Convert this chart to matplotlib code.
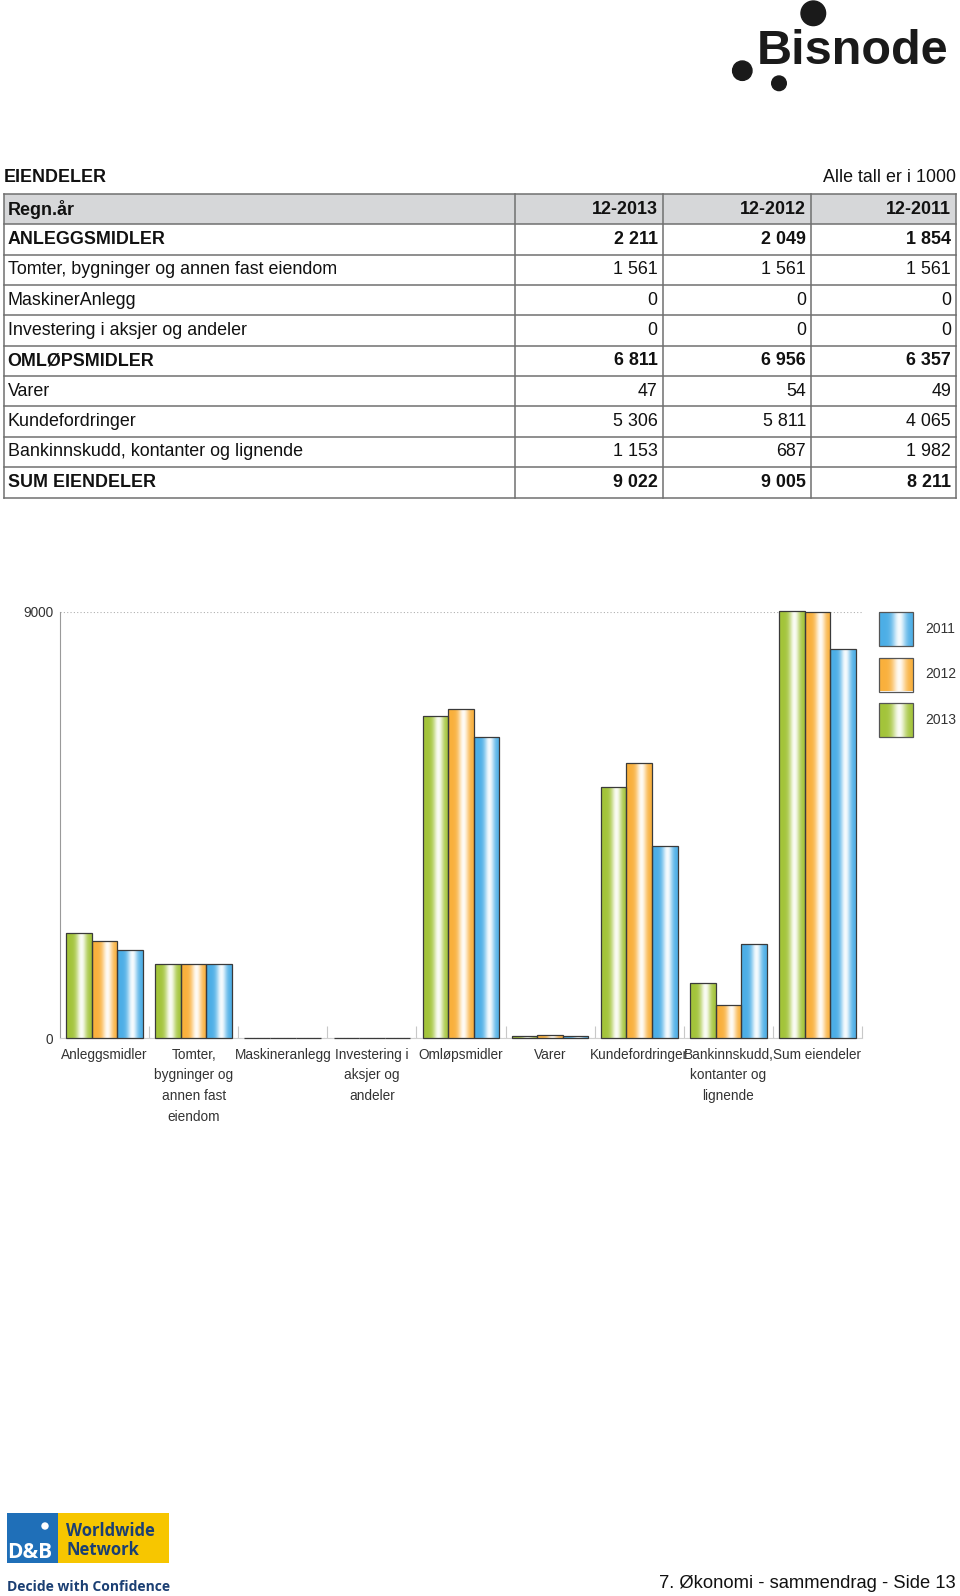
import numpy as np
import matplotlib
matplotlib.use("Agg")
import matplotlib.pyplot as plt
from matplotlib.patches import Rectangle, Circle

plt.rcParams['font.family'] = ['Liberation Sans', 'DejaVu Sans']

# Table data (Alle tall er i 1000)
years = ["12-2013", "12-2012", "12-2011"]
rows = ["ANLEGGSMIDLER", "Tomter, bygninger og annen fast eiendom",
        "MaskinerAnlegg", "Investering i aksjer og andeler",
        "OMLØPSMIDLER", "Varer", "Kundefordringer",
        "Bankinnskudd, kontanter og lignende", "SUM EIENDELER"]
bold_rows = ["ANLEGGSMIDLER", "OMLØPSMIDLER", "SUM EIENDELER"]
v2013 = [2211, 1561, 0, 0, 6811, 47, 5306, 1153, 9022]
v2012 = [2049, 1561, 0, 0, 6956, 54, 5811, 687, 9005]
v2011 = [1854, 1561, 0, 0, 6357, 49, 4065, 1982, 8211]

# Chart categories
categories = ["Anleggsmidler", "Tomter,\nbygninger og\nannen fast\neiendom",
              "Maskineranlegg", "Investering i\naksjer og\nandeler",
              "Omløpsmidler", "Varer", "Kundefordringer",
              "Bankinnskudd,\nkontanter og\nlignende", "Sum eiendeler"]
series_labels = ["2013", "2012", "2011"]
series_colors = {"2013": "#a3c43a", "2012": "#f9b03c", "2011": "#4caee6"}

W, H = 960, 1596
fig = plt.figure(figsize=(W / 100, H / 100), dpi=100)


def gradient(color, n=64):
    c = np.array(matplotlib.colors.to_rgb(color))
    t = np.linspace(0, 1, n)
    w = 0.95 * np.exp(-((t - 0.6) / 0.2) ** 2)
    g = c[None, :] * (1 - w[:, None]) + w[:, None]
    return g[None, :, :]


def fmt(v):
    return f"{v:,}".replace(",", " ")


# ---- Chart ----
ax = fig.add_axes([60 / W, 1 - 1038 / H, 802 / W, 426 / H])
x = np.arange(len(categories)) + 0.5
bw = 0.287
for k, (lab, vals) in enumerate(zip(series_labels, [v2013, v2012, v2011])):
    bars = ax.bar(x + (k - 1) * bw, vals, bw, facecolor='none',
                  edgecolor='#3a3a3a', linewidth=0.9, zorder=3, clip_on=False)
    g = gradient(series_colors[lab])
    for p in bars:
        x0, h = p.get_x(), p.get_height()
        if h <= 0:
            continue
        im = ax.imshow(g, extent=(x0, x0 + p.get_width(), 0, h),
                       aspect='auto', zorder=2, interpolation='bilinear')
        im.set_clip_path(p)

ax.set_xlim(0, len(categories))
ax.set_ylim(0, 9000)
ax.set_yticks([0, 9000])
ax.set_yticklabels(["0", "9000"])
ax.set_xticks(x)
ax.set_xticklabels(categories, linespacing=1.6)
ax.set_xticks(np.arange(1, len(categories) + 1), minor=True)
ax.tick_params(axis='x', which='major', length=0, pad=7,
               labelsize=9.8, labelcolor='#333333')
ax.tick_params(axis='x', which='minor', direction='in', length=9,
               color='#c8c8c8', width=0.8)
ax.tick_params(axis='y', length=0, pad=5, labelsize=9.8, labelcolor='#333333')
ax.yaxis.grid(True, linestyle=(0, (1, 2)), color='#b0b0b0', linewidth=0.8)
ax.set_axisbelow(True)
for s in ['top', 'right']:
    ax.spines[s].set_visible(False)
ax.spines['left'].set_color('#9a9a9a')
ax.spines['bottom'].set_color('#d0d0d0')
ax.spines['bottom'].set_linewidth(0.8)

# ---- Overlay in pixel coordinates ----
ov = fig.add_axes([0, 0, 1, 1], zorder=5)
ov.patch.set_alpha(0)
ov.axis('off')

# Legend (2011 on top)
for i, lab in enumerate(["2011", "2012", "2013"]):
    y0 = 612 + i * 45.5
    r = Rectangle((879, y0), 34, 34, facecolor='none', edgecolor='#555555',
                  linewidth=0.9, zorder=3)
    ov.add_patch(r)
    im = ov.imshow(gradient(series_colors[lab]), extent=(879, 913, y0 + 34, y0),
                   aspect='auto', zorder=2, interpolation='bilinear')
    im.set_clip_path(r)
    ov.text(925, y0 + 17, lab, fontsize=10, color='#333333', va='center')

# Table
ov.text(4, 178, "EIENDELER", fontsize=12.9, fontweight='bold', va='center',
        color='#111111')
ov.text(956, 178, "Alle tall er i 1000", fontsize=12.9, va='center',
        ha='right', color='#111111')
top, rh = 194, 30.35
cols = [3.5, 515, 662.7, 811, 956]
ov.add_patch(Rectangle((cols[0], top), cols[-1] - cols[0], rh,
                       facecolor='#d6d7d9', edgecolor='none', zorder=1))
nrows = len(rows) + 1
for k in range(nrows + 1):
    ov.plot([cols[0], cols[-1]], [top + k * rh] * 2, color='#707070', lw=1.1,
            zorder=2)
for c in cols:
    ov.plot([c, c], [top, top + nrows * rh], color='#707070', lw=1.1, zorder=2)

ov.text(cols[0] + 4, top + rh / 2, "Regn.år", fontsize=12.9,
        fontweight='bold', va='center', color='#111111')
for j, yl in enumerate(years):
    ov.text(cols[j + 2] - 5, top + rh / 2, yl, fontsize=12.9,
            fontweight='bold', va='center', ha='right', color='#111111')
for i, name in enumerate(rows):
    yc = top + (i + 1.5) * rh
    fw = 'bold' if name in bold_rows else 'normal'
    ov.text(cols[0] + 4, yc, name, fontsize=12.9, fontweight=fw,
            va='center', color='#111111')
    for j, vals in enumerate([v2013, v2012, v2011]):
        ov.text(cols[j + 2] - 5, yc, fmt(vals[i]), fontsize=12.9,
                fontweight=fw, va='center', ha='right', color='#111111')

# Bisnode logo
ov.text(757, 63.5, "Bisnode", fontsize=35, fontweight='bold', va='baseline',
        ha='left', color='#1a1a1a')
for cx, cy, rr in [(813.3, 13.3, 12.3), (742.3, 70.7, 9.7), (779, 83.3, 7.3)]:
    ov.add_patch(Circle((cx, cy), rr, color='#1a1a1a'))

# D&B logo
ov.add_patch(Rectangle((6.7, 1513.3), 51, 50, facecolor='#1f6fb8',
                       edgecolor='none'))
ov.add_patch(Rectangle((57.7, 1513.3), 111.6, 50, facecolor='#f7c600',
                       edgecolor='none'))
ov.add_patch(Circle((45, 1526), 3, color='white'))
ov.text(30, 1552, "D&B", fontsize=15, fontweight='bold', color='white',
        ha='center', va='center', family=['Open Sans', 'DejaVu Sans'])
ov.text(66, 1530.7, "Worldwide", fontsize=12, fontweight='bold',
        color='#1b3f73', va='center', family=['Open Sans', 'DejaVu Sans'])
ov.text(66, 1550, "Network", fontsize=12, fontweight='bold',
        color='#1b3f73', va='center', family=['Open Sans', 'DejaVu Sans'])
ov.text(7, 1587, "Decide with Confidence", fontsize=10, fontweight='bold',
        color='#1b3f73', va='center', family=['Open Sans', 'DejaVu Sans'])

# Footer
ov.text(956, 1583, "7. Økonomi - sammendrag - Side 13", fontsize=13.2,
        ha='right', va='center', color='#111111')

ov.set_xlim(0, W)
ov.set_ylim(H, 0)

fig.savefig("out.png", dpi=100)
